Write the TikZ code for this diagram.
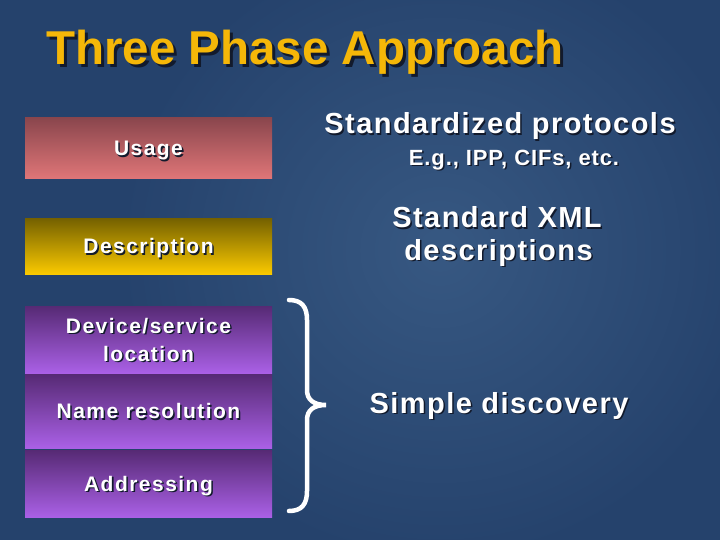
\documentclass[tikz,border=0pt]{standalone}
\usepackage{fontspec}
\setmainfont{Liberation Sans}
\usepackage{tikz}
\usetikzlibrary{shadings,           % degrades des blocs
                positioning,
                calc}
\definecolor{fond}{RGB}{37,66,108}
\definecolor{fondclair}{RGB}{55,88,130}
\definecolor{titre}{RGB}{245,183,8}
\definecolor{ombre}{RGB}{18,26,44}
\definecolor{rougeH}{RGB}{138,70,77}
\definecolor{rougeB}{RGB}{224,118,120}
\definecolor{jauneH}{RGB}{118,98,0}
\definecolor{jauneB}{RGB}{250,201,0}
\definecolor{violetH}{RGB}{86,42,116}
\definecolor{violetB}{RGB}{170,96,230}
% texte avec ombre portee
\newcommand{\ombrer}[1]{\rlap{\kern1.5pt\raisebox{-1.5pt}{\textcolor{ombre}{#1}}}#1}
\newcommand{\ombrerT}[1]{\rlap{\kern3pt\raisebox{-3pt}{\textcolor{ombre}{#1}}}#1}
\tikzset{
  bloc/.style={minimum width=247pt, inner sep=0pt, text=white, align=center,
               text height=15pt, text depth=0pt,
               font=\fontsize{21}{28}\selectfont\bfseries\addfontfeature{LetterSpace=7}},
  rouge/.style={bloc, top color=rougeH, bottom color=rougeB},
  jaune/.style={bloc, top color=jauneH, bottom color=jauneB},
  violet/.style={bloc, top color=violetH, bottom color=violetB},
  texte/.style={anchor=base, text=white, inner sep=0pt,
                font=\fontsize{29}{32}\selectfont\bfseries\addfontfeature{LetterSpace=5}},
  accolade/.style={draw=white, line width=4.5pt, line cap=round}
}

\begin{document}
\begin{tikzpicture}[x=1pt,y=-1pt]
\useasboundingbox (0,0) rectangle (720,540);
\fill[fond] (0,0) rectangle (720,540);
\shade[inner color=fondclair, outer color=fond] (120,-60) rectangle (760,560);
% titre
\node[anchor=base west, inner sep=0pt, text=titre,
      font=\fontsize{47.5}{50}\selectfont\bfseries] (titre) at (46,65) {\ombrerT{Three Phase Approach}};
% les blocs de gauche
\node[rouge, minimum height=61pt] (usage) at (148.5,148.5) {\ombrer{Usage}};
\node[jaune, minimum height=55pt] (descr) at (148.5,246.5) {\ombrer{Description}};
\node[violet, minimum height=67pt, text height=43pt] (loc) at (148.5,339.5) {\ombrer{Device/service}\\\ombrer{location}};
\node[violet, minimum height=74pt] (nom) at (148.5,411) {\ombrer{Name resolution}};
\node[violet, minimum height=67pt] (adr) at (148.5,483.5) {\ombrer{Addressing}};
% accolade
\coordinate (pointe) at (326,405);
\draw[accolade] (289,300) .. controls (302,300) and (307,307) .. (307,320) -- (307,390)
   .. controls (307,400) and (314,405) .. (pointe)
   .. controls (314,405) and (307,410) .. (307,420) -- (307,491)
   .. controls (307,504) and (302,511) .. (289,511);
% textes de droite
\node[texte] (proto) at (500,134) {\ombrer{Standardized protocols}};
\node[texte, font=\fontsize{22}{26}\selectfont\bfseries\addfontfeature{LetterSpace=4}] (eg) at (514,165.5) {\ombrer{E.g., IPP, CIFs, etc.}};
\node[texte] (xml) at (497,228) {\ombrer{Standard XML}};
\node[texte] (xmlb) at (498.5,260) {\ombrer{descriptions}};
\node[texte] (simple) at (499,413) {\ombrer{Simple discovery}};
\end{tikzpicture}
\end{document}
